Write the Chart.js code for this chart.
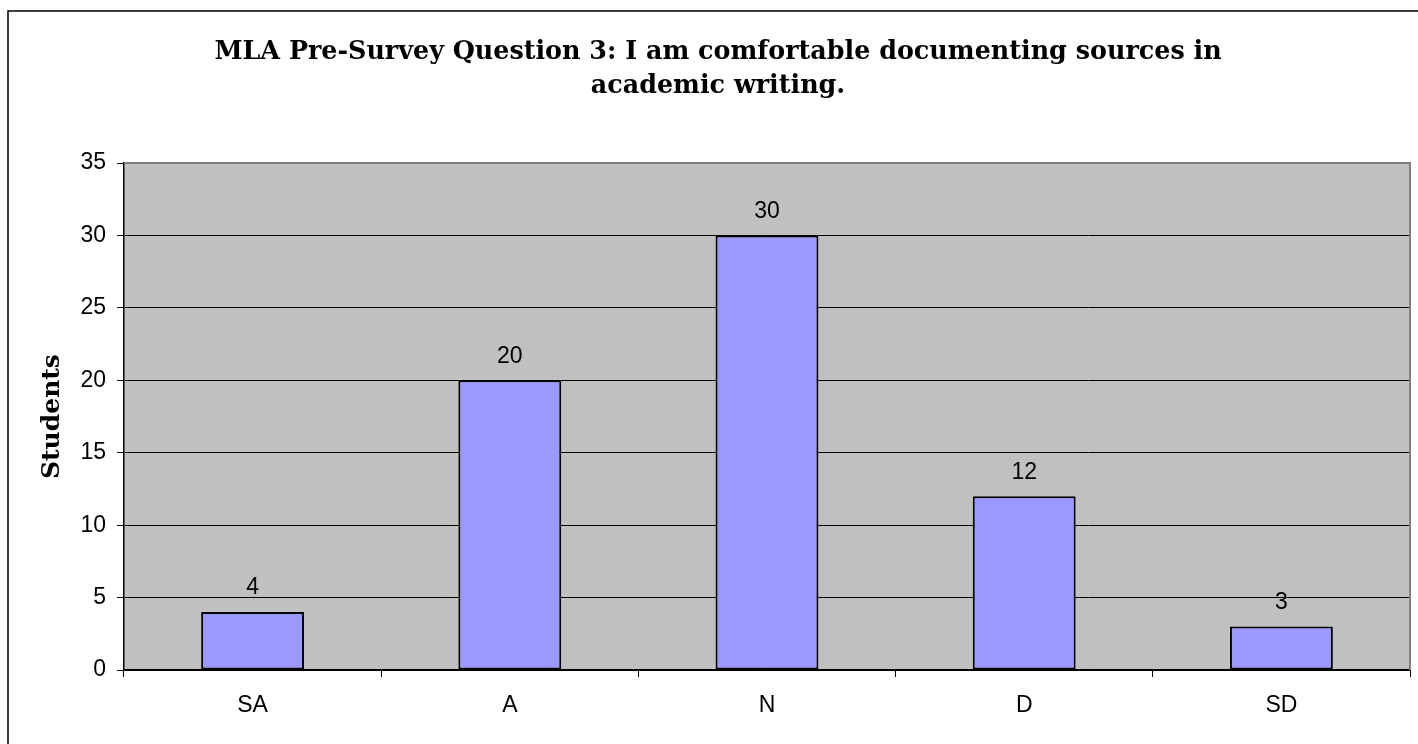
<!DOCTYPE html>
<html>
<head>
<meta charset="utf-8">
<script src="https://cdn.jsdelivr.net/npm/chart.js@4/dist/chart.umd.min.js"></script>
<style>
  html, body { margin: 0; padding: 0; background: #fff; }
  #wrap { width: 1418px; height: 744px; }
</style>
</head>
<body>
<div id="wrap"><canvas id="myChart" width="1418" height="744"></canvas></div>
<script>
// values
const categories = ['SA', 'A', 'N', 'D', 'SD'];
const students = [4, 20, 30, 12, 3];
const titleLines = ['MLA Pre-Survey Question 3: I am comfortable documenting sources in', 'academic writing.'];
const yTitle = 'Students';

const sansFont = "'Liberation Sans', Arial, sans-serif";
const serifFont = "'DejaVu Serif', serif";

// white page, outer frame and the grey plot area
const frame = {
  id: 'frame',
  beforeDraw(chart) {
    const ctx = chart.ctx;
    const a = chart.chartArea;
    ctx.save();
    ctx.fillStyle = '#fff';
    ctx.fillRect(0, 0, chart.width, chart.height);
    ctx.strokeStyle = '#000';
    ctx.lineWidth = 1.5;
    ctx.strokeRect(8, 11, chart.width + 10, chart.height + 10);
    ctx.fillStyle = '#c0c0c0';
    ctx.fillRect(a.left, a.top, a.right - a.left, a.bottom - a.top);
    ctx.restore();
  },
  beforeDatasetsDraw(chart) {
    const ctx = chart.ctx;
    const a = chart.chartArea;
    ctx.save();
    ctx.strokeStyle = '#808080';
    ctx.lineWidth = 2;
    ctx.beginPath();
    ctx.moveTo(a.left, a.top);
    ctx.lineTo(a.right, a.top);
    ctx.lineTo(a.right, a.bottom);
    ctx.stroke();
    ctx.restore();
  }
};

// numbers above the bars
const barLabels = {
  id: 'barLabels',
  afterDatasetsDraw(chart) {
    const ctx = chart.ctx;
    const meta = chart.getDatasetMeta(0);
    ctx.save();
    ctx.font = '23px ' + sansFont;
    ctx.fillStyle = '#000';
    ctx.textAlign = 'center';
    ctx.textBaseline = 'middle';
    meta.data.forEach((bar, i) => {
      ctx.fillText(String(chart.data.datasets[0].data[i]), bar.x, bar.y - 24);
    });
    ctx.restore();
  }
};

const ctx = document.getElementById('myChart').getContext('2d');
const myChart = new Chart(ctx, {
  type: 'bar',
  data: {
    labels: categories,
    datasets: [{
      label: yTitle,
      data: students,
      backgroundColor: '#9999ff',
      borderColor: '#000',
      borderWidth: 2,
      borderSkipped: false,
      categoryPercentage: 1,
      barPercentage: 0.4
    }]
  },
  options: {
    responsive: false,
    animation: false,
    devicePixelRatio: 1,
    // left padding pushes the title centre to the right like the original
    layout: { padding: { top: 0, left: 26, right: 8, bottom: 0 } },
    plugins: {
      legend: { display: false },
      tooltip: { enabled: false },
      title: {
        display: true,
        text: titleLines,
        color: '#000',
        font: { family: serifFont, size: 25.4, weight: 'bold', lineHeight: 1.34 },
        padding: { top: 35, bottom: 60 }
      }
    },
    scales: {
      x: {
        offset: true,
        grid: {
          offset: true,
          drawOnChartArea: false,
          tickLength: 7,
          color: '#000'
        },
        border: { color: '#000', width: 1.5 },
        ticks: {
          color: '#000',
          padding: 15,
          font: { family: sansFont, size: 23 }
        },
        afterFit(scale) { scale.height = 74; }
      },
      y: {
        min: 0,
        max: 35,
        ticks: {
          stepSize: 5,
          color: '#000',
          padding: 11,
          font: { family: sansFont, size: 23 }
        },
        grid: {
          color: (c) => (c.tick && c.tick.value === 35 ? '#808080' : '#000'),
          tickColor: '#000',
          tickLength: 7
        },
        border: { color: '#000', width: 1.5 },
        title: {
          display: true,
          text: yTitle,
          color: '#000',
          font: { family: serifFont, size: 25, weight: 'bold', lineHeight: 1.2 },
          padding: { top: 11, bottom: 0 }
        },
        afterFit(scale) { scale.width = 98; }
      }
    }
  },
  plugins: [frame, barLabels]
});
</script>
</body>
</html>
